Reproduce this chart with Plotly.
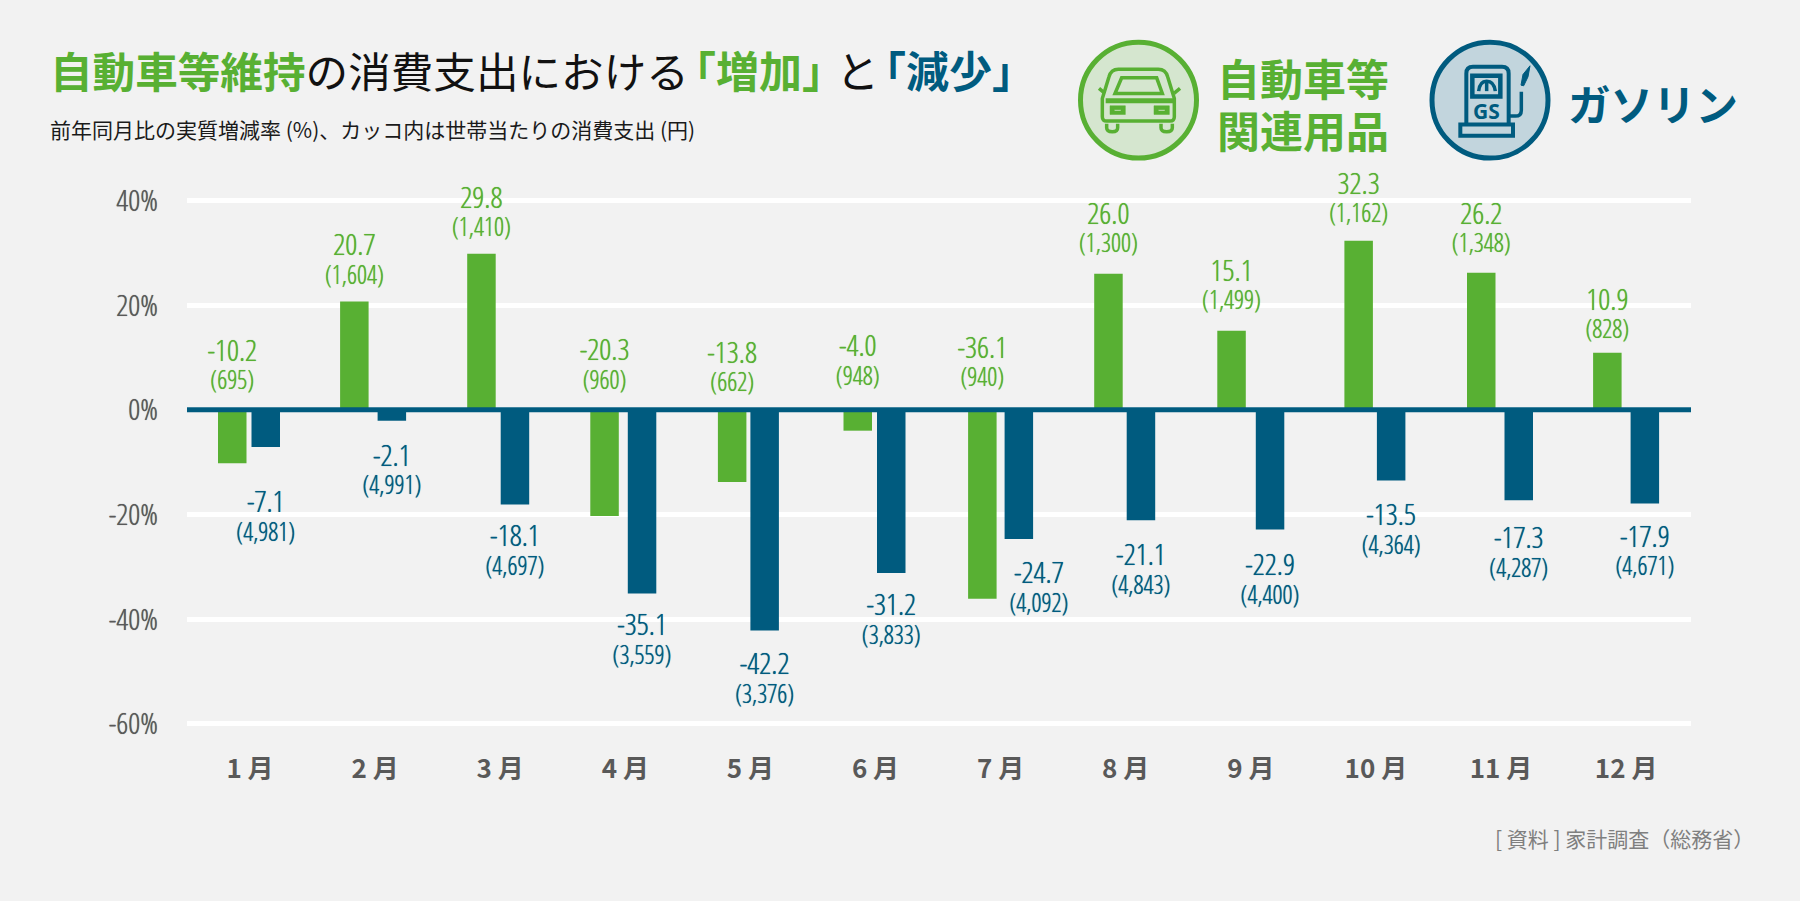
import re
import plotly.graph_objects as go

MONTHS = [f"{m}\u00a0月" for m in ["1", "2", "3", "4", "5", "6", "7", "8", "9", "10", "11", "12"]]
CAR_RATE = [-10.2, 20.7, 29.8, -20.3, -13.8, -4.0, -36.1, 26.0, 15.1, 32.3, 26.2, 10.9]
CAR_YEN = ["(695)", "(1,604)", "(1,410)", "(960)", "(662)", "(948)", "(940)", "(1,300)", "(1,499)", "(1,162)", "(1,348)", "(828)"]
GAS_RATE = [-7.1, -2.1, -18.1, -35.1, -42.2, -31.2, -24.7, -21.1, -22.9, -13.5, -17.3, -17.9]
GAS_YEN = ["(4,981)", "(4,991)", "(4,697)", "(3,559)", "(3,376)", "(3,833)", "(4,092)", "(4,843)", "(4,400)", "(4,364)", "(4,287)", "(4,671)"]
Y_TICKS = [-60, -40, -20, 0, 20, 40]
Y_LABELS = ["-60%", "-40%", "-20%", "0%", "20%", "40%"]

# styles
GREEN, BLUE, BG, GREY = "#58b033", "#005b7f", "#f2f2f2", "#595959"
GREEN_PALE, BLUE_PALE = "#d5e6cf", "#c2d5dd"
NARROW = "Open Sans Condensed Light"
CJK = "Noto Sans CJK JP"
PX = 5.235
Y0, Y1 = -61, 46
ZERO_PX = 409.7
L, R = 187, 1691
T, B = ZERO_PX - Y1 * PX, ZERO_PX - Y0 * PX
W, H = R - L, B - T
STEP = 125.1
FIRST = 250
X0 = 1 - (FIRST - L) / STEP
X1 = 1 + (R - FIRST) / STEP
BAR_W = 28.5 / STEP
PAIR_GAP = [5, 9, 5, 9, 4, 5, 8, 4, 10, 4, 9, 9]  # px between the two bars of each month
PAIR_SHIFT = [-1, -2, -2, -2, -2, -1, 0, -1, 0, -1, -1, 0]  # px
GAS_DY = [24, 3.4, 0.5, 0.5, 1.7, 0.5, 2.3, 3.4, 4, 3, 6.3, 1.7]
GAS_DX = [0, 0, 0, 0, 0, 0, 20, 0, 0, 0, 0, 0]
CAR_DY = [1.7, -1.4, -1.4, 1.9, -0.3, 5.9, 4.7, 2, 2, -1, 0.9, -5]

xs = list(range(1, 13))
car_off = [(s - g / 2) / STEP - BAR_W for g, s in zip(PAIR_GAP, PAIR_SHIFT)]
gas_off = [(s + g / 2) / STEP for g, s in zip(PAIR_GAP, PAIR_SHIFT)]
car_x = [x + o + BAR_W / 2 for x, o in zip(xs, car_off)]
gas_x = [x + o + BAR_W / 2 + d / STEP for x, o, d in zip(xs, gas_off, GAS_DX)]

fig = go.Figure()
fig.add_bar(x=xs, y=CAR_RATE, width=BAR_W, offset=car_off, marker=dict(color=GREEN, line_width=0))
fig.add_bar(x=xs, y=GAS_RATE, width=BAR_W, offset=gas_off, marker=dict(color=BLUE, line_width=0))
# zero line, with round ends
fig.add_scatter(x=[X0 - 2.5 / STEP, X1 + 2 / STEP], y=[0, 0], mode="lines+markers",
                line=dict(color=BLUE, width=5), marker=dict(color=BLUE, size=5), cliponaxis=False)


def labels(x, y, text, color, size):
    fig.add_scatter(x=x, y=y, text=text, mode="text", textposition="middle center",
                    textfont=dict(family=NARROW, size=size, color=color, shadow=f"0 0 0.7px {color}"),
                    cliponaxis=False)


car_tip = [max(v, 0) + d / PX for v, d in zip(CAR_RATE, CAR_DY)]
gas_tip = [min(v, 0) - d / PX for v, d in zip(GAS_RATE, GAS_DY)]
labels(car_x, [t + 55 / PX for t in car_tip], [f"{v:.1f}" for v in CAR_RATE], GREEN, 30)
labels(car_x, [t + 25.5 / PX for t in car_tip], CAR_YEN, GREEN, 25)
labels(gas_x, [t - 34 / PX for t in gas_tip], [f"{v:.1f}" for v in GAS_RATE], BLUE, 30)
labels(gas_x, [t - 64 / PX for t in gas_tip], GAS_YEN, BLUE, 25)

NUM = re.compile(r"(-?[\d.]+),(-?[\d.]+)")


def icon_path(path, ox, oy):
    """Path written in zoomed icon units (1/3 px) relative to (ox, oy) -> paper coordinates."""
    def sub(m):
        px = ox + float(m.group(1)) / 3
        py = oy + float(m.group(2)) / 3
        return f"{(px - L) / W:.5f},{(B - py) / H:.5f}"
    return NUM.sub(sub, path)


def shape_path(path, ox, oy, color, width, fill="rgba(0,0,0,0)"):
    return dict(type="path", xref="paper", yref="paper", layer="above",
                path=icon_path(path, ox, oy), line=dict(color=color, width=width), fillcolor=fill)


def circle(cx, cy, r, stroke, fill):
    return dict(type="circle", xref="paper", yref="paper", layer="above",
                x0=(cx - r - L) / W, x1=(cx + r - L) / W, y0=(B - cy - r) / H, y1=(B - cy + r) / H,
                line=dict(color=stroke, width=5), fillcolor=fill)


CO = (1075, 35)
car_shapes = [
    ("M 82,190 L 102,125 Q 108,102 130,102 L 250,102 Q 272,102 278,125 L 298,190 L 298,245 Q 298,258 285,258 "
     "L 95,258 Q 82,258 82,245 Z", 3.5),
    ("M 140,128 L 245,128 L 262,175 L 120,175 Z", 3.5),
    ("M 92,197 L 295,197", 5),
    ("M 72,160 L 90,175", 3.5), ("M 315,160 L 297,175", 3.5),
    ("M 95,266 L 95,278 Q 95,290 112,290 Q 128,290 128,278 L 128,266", 3.5),
    ("M 258,266 L 258,278 Q 258,290 275,290 Q 292,290 292,278 L 292,266", 3.5),
]
PO = (1428, 35)
pump_shapes = [
    ("M 115,270 L 115,115 Q 115,95 135,95 L 222,95 Q 242,95 242,115 L 242,270", 4),
    ("M 97,268 L 255,268 L 255,302 L 97,302 Z", 4),
    ("M 133,122 L 217,122 L 217,184 L 133,184 Z", 4.5),
    ("M 152,168 Q 155,138 176,138 Q 198,138 202,168", 3.5),
    ("M 176,140 L 176,168", 3.5),
    ("M 280,170 L 280,225 Q 280,243 262,243 L 245,243", 3.5),
]
shapes = [
    # gridline drawn over the one label that sits on it
    dict(type="line", xref="x", yref="y", x0=X0, x1=3.5, y0=-20, y1=-20, layer="above",
         line=dict(color="white", width=5)),
    circle(1138.5, 100, 58, GREEN, GREEN_PALE),
    circle(1490, 100, 58, BLUE, BLUE_PALE),
]
shapes += [shape_path(p, *CO, GREEN, w) for p, w in car_shapes]
shapes += [shape_path("M 105,212 L 151,212 L 151,238 L 105,238 Z M 118,224 L 138,224 L 138,228 L 118,228 Z", *CO, GREEN, 0.5, GREEN),
           shape_path("M 237,212 L 283,212 L 283,238 L 237,238 Z M 250,224 L 270,224 L 270,228 L 250,228 Z", *CO, GREEN, 0.5, GREEN)]
shapes += [shape_path(p, *PO, BLUE, w) for p, w in pump_shapes]
shapes += [shape_path("M 279,150 L 285,118 L 306,92 L 300,125 L 287,152 Z", *PO, BLUE, 1, BLUE)]


def note(px, py, text, size, color=GREY, anchor="left", family=CJK):
    return dict(xref="paper", yref="paper", x=(px - L) / W, y=(B - py) / H, text=text, showarrow=False,
                xanchor=anchor, yanchor="middle", align=anchor,
                font=dict(family=family, size=size, color=color))


annotations = [
    note(47.5, 69, f'<span style="color:{GREEN}"><b>自動車等維持</b></span>の消費支出における', 42.6, "#111111"),
    note(671, 69, "<b>「増加」</b>", 43, GREEN),
    note(834, 69, "と", 43, "#111111"),
    note(861, 69, "<b>「減少」</b>", 43, BLUE),
    note(48, 129, "前年同月比の実質増減率 (%)、カッコ内は世帯当たりの消費支出 (円)", 21, "#1a1a1a"),
    note(1215, 77, "<b>自動車等</b>", 43, GREEN),
    note(1215, 129, "<b>関連用品</b>", 43, GREEN),
    note(1566, 102, "<b>ガソリン</b>", 42.5, BLUE),
    note(1486, 111, "<b>GS</b>", 21, BLUE, "center", "Noto Sans"),
    note(1756, 838, "[ 資料 ] 家計調査（総務省）", 21, "#7f7f7f", "right"),
]

fig.update_layout(
    width=1800, height=901, autosize=False, showlegend=False, barmode="overlay",
    paper_bgcolor=BG, plot_bgcolor=BG, hovermode=False,
    margin=dict(l=L, r=1800 - R, t=T, b=901 - B, pad=0),
    shapes=shapes, annotations=annotations,
    xaxis=dict(range=[X0, X1], tickmode="array", tickvals=xs, ticktext=MONTHS, showgrid=False, zeroline=False,
               showline=False, ticks="", ticklabelstandoff=22,
               tickfont=dict(family=CJK, size=26, color=GREY, weight=700)),
    yaxis=dict(range=[Y0, Y1], tickmode="array", tickvals=Y_TICKS, ticktext=Y_LABELS, showgrid=True,
               gridcolor="white", gridwidth=5, zeroline=False, showline=False, ticks="", ticklabelstandoff=28,
               tickfont=dict(family=NARROW, size=30, color=GREY, shadow=f"0 0 0.7px {GREY}")),
)
fig.write_html("out.html", config=dict(displayModeBar=False),
               post_script=f"document.body.style.margin='0';document.body.style.background='{BG}';")
